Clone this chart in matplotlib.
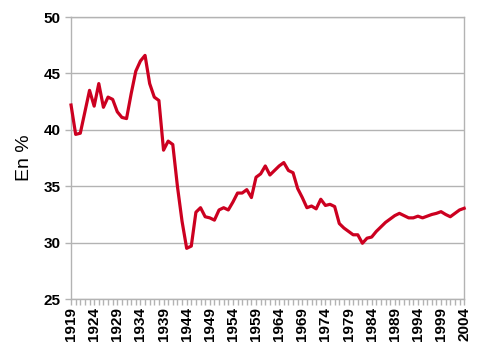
import matplotlib.pyplot as plt
import numpy as np

plt.rcParams['font.family'] = ['Liberation Sans', 'DejaVu Sans']

years = list(range(1919, 2005))
share = [
    42.2, 39.6, 39.7, 41.6, 43.5, 42.1, 44.1, 42.0, 42.9, 42.7,   # 1919-1928
    41.6, 41.1, 41.0, 43.2, 45.2, 46.1, 46.6, 44.1, 42.9, 42.6,   # 1929-1938
    38.2, 39.0, 38.7, 35.0, 31.9, 29.5, 29.7, 32.7, 33.1, 32.3,   # 1939-1948
    32.2, 32.0, 32.9, 33.1, 32.9, 33.6, 34.4, 34.4, 34.7, 34.0,   # 1949-1958
    35.8, 36.1, 36.8, 36.0, 36.4, 36.8, 37.1, 36.4, 36.2, 34.8,   # 1959-1968
    34.0, 33.1, 33.25, 33.0, 33.85, 33.3, 33.4, 33.2, 31.7, 31.3, # 1969-1978
    31.0, 30.7, 30.7, 29.95, 30.4, 30.5, 31.0, 31.4, 31.8, 32.1,  # 1979-1988
    32.4, 32.6, 32.4, 32.2, 32.2, 32.35, 32.2, 32.35, 32.5, 32.6, # 1989-1998
    32.75, 32.5, 32.3, 32.6, 32.9, 33.05,                         # 1999-2004
]
label_years = list(range(1919, 2005, 5))
y_ticks = [25, 30, 35, 40, 45, 50]

grey = '#b3b3b3'

fig = plt.figure(figsize=(4.8, 3.47), dpi=100)
ax = fig.add_axes([0.148, 0.138, 0.819, 0.813])

ax.plot(years, share, color='#cc0020', linewidth=2.3,
        solid_joinstyle='round', clip_on=False, zorder=3)

ax.set_xlim(1919, 2004)
ax.set_ylim(25, 50)
ax.set_yticks(y_ticks)
ax.set_xticks(years)
ax.set_xticklabels([str(y) if y in label_years else '' for y in years],
                   rotation=90, fontsize=11, fontweight='bold')
ax.tick_params(axis='y', labelsize=11, length=4, color=grey, width=1)
ax.tick_params(axis='x', length=4, color=grey, width=1, pad=2)
for lab in ax.get_yticklabels():
    lab.set_fontweight('bold')

ax.grid(axis='y', color=grey, linewidth=1)
ax.set_axisbelow(True)
for s in ax.spines.values():
    s.set_color(grey)
    s.set_linewidth(1)

ax.set_ylabel('En %', fontsize=14, labelpad=8)

fig.savefig('out.png', dpi=100)
